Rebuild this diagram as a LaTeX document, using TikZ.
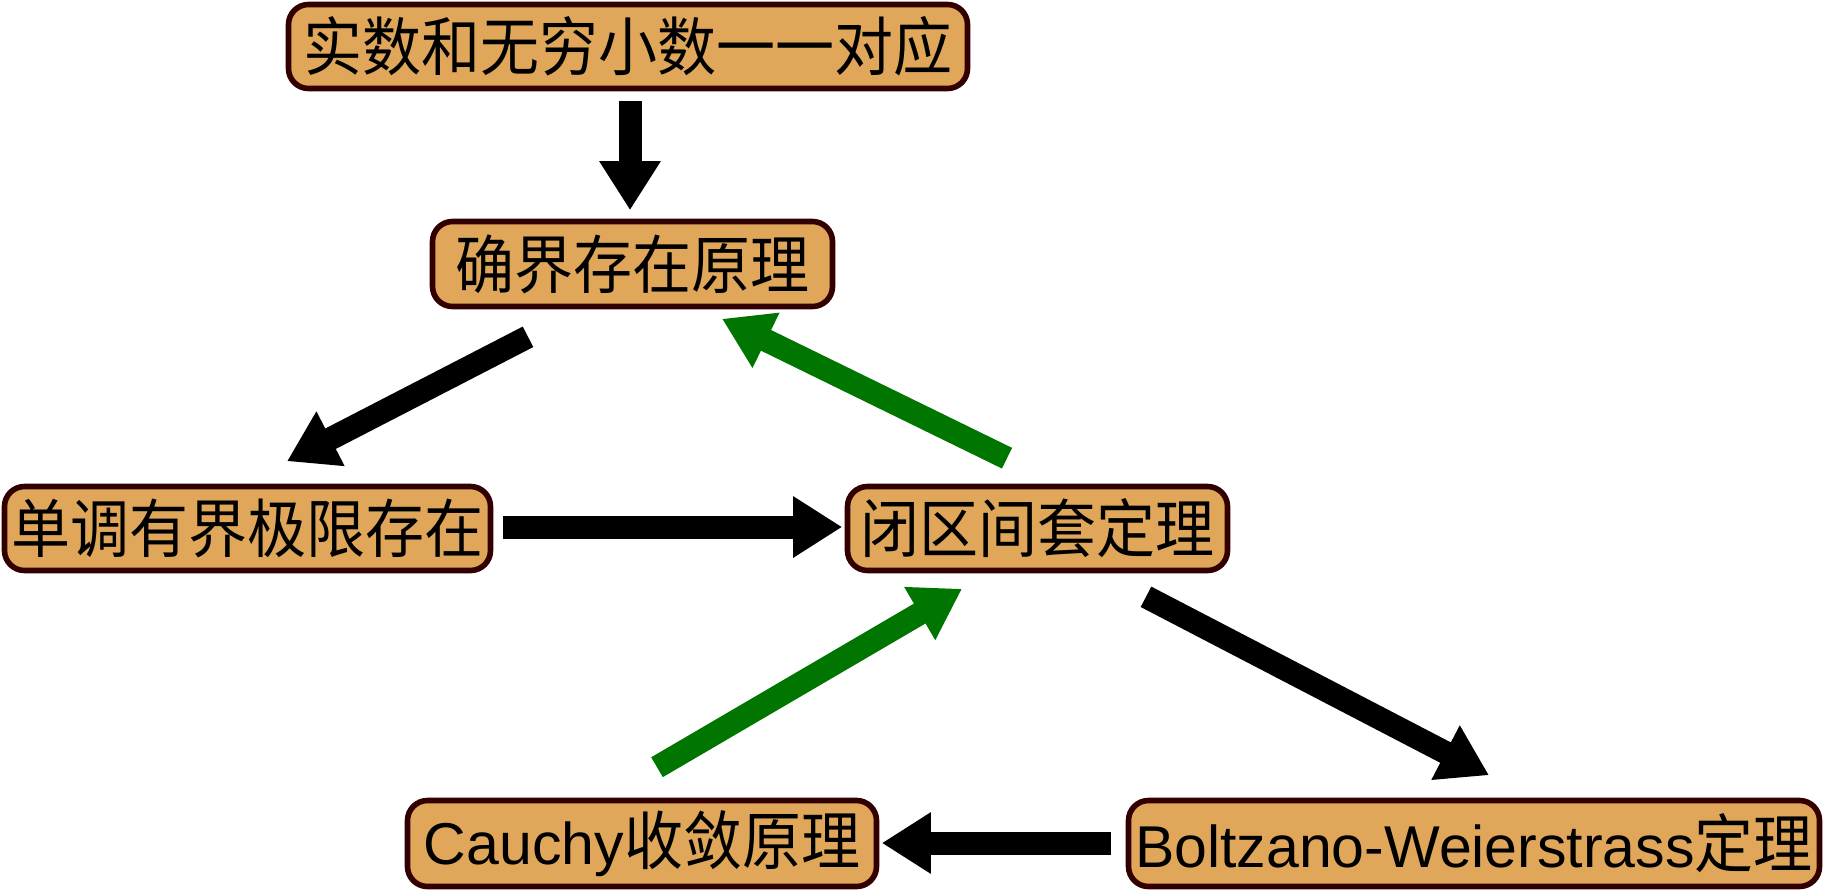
\documentclass[tikz,border=0pt]{standalone}
\usepackage{fontspec}
\usepackage{graphicx}
\setmainfont{Liberation Sans}
\newfontfamily\cjk{Noto Sans CJK SC}
\newcommand\zh[1]{\scalebox{1}[1.08]{\cjk #1}}
\usetikzlibrary{arrows.meta,calc}
\definecolor{boxfill}{RGB}{224,167,90}
\definecolor{boxline}{RGB}{51,0,0}
\definecolor{grn}{RGB}{0,117,0}
\tikzset{
  thm/.style={draw=boxline, fill=boxfill, line width=2.8pt, rounded corners=10pt,
    inner sep=0pt, font=\fontsize{29.5pt}{32pt}\selectfont},
  bigarrow/.style={line width=11.5pt, -{Triangle[length=24.5pt,width=29pt]}},
  blk/.style={bigarrow, draw=black},
  grnarrow/.style={bigarrow, draw=grn},
}
\begin{document}
\begin{tikzpicture}[x=0.5pt,y=-0.5pt]
\useasboundingbox (0,0) rectangle (1824,889);
\node[thm, minimum width=339.5pt, minimum height=42pt] (A) at (628,46.5) {\zh{实数和无穷小数一一对应}};
\node[thm, minimum width=200pt, minimum height=42.5pt] (B) at (632.5,264) {\zh{确界存在原理}};
\node[thm, minimum width=243pt, minimum height=42pt] (C) at (247.5,528.5) {\zh{单调有界极限存在}};
\node[thm, minimum width=190pt, minimum height=42pt] (D) at (1037.5,528.5) {\zh{闭区间套定理}};
\node[thm, minimum width=234.5pt, minimum height=43pt] (E) at (642,843.5) {Cauchy\zh{收敛原理}};
\node[thm, minimum width=345.5pt, minimum height=43pt] (F) at (1474,843.5) {Boltzano-Weierstrass\zh{定理}};

\draw[blk] ($(A.south)+(2,9.5)$) -- ($(B.north)+(-2.5,-8.5)$);
\draw[blk] ($(B.south)+(-104.5,27.5)$) -- ($(C.north)+(39.5,-22.5)$);
\draw[blk] ($(C.east)+(9.5,-1.5)$) -- ($(D.west)+(-2.5,-1.5)$);
\draw[blk] ($(D.south)+(108.5,23.5)$) -- ($(F.north)+(15,-22.5)$);
\draw[blk] ($(F.west)+(-14.5,-0.5)$) -- ($(E.east)+(2.5,-0.5)$);
\draw[grnarrow] ($(E.north)+(15,-30.5)$) -- ($(D.south)+(-75.5,15.5)$);
\draw[grnarrow] ($(D.north)+(-30.5,-25.5)$) -- ($(B.south)+(89.5,9.5)$);
\end{tikzpicture}
\end{document}
